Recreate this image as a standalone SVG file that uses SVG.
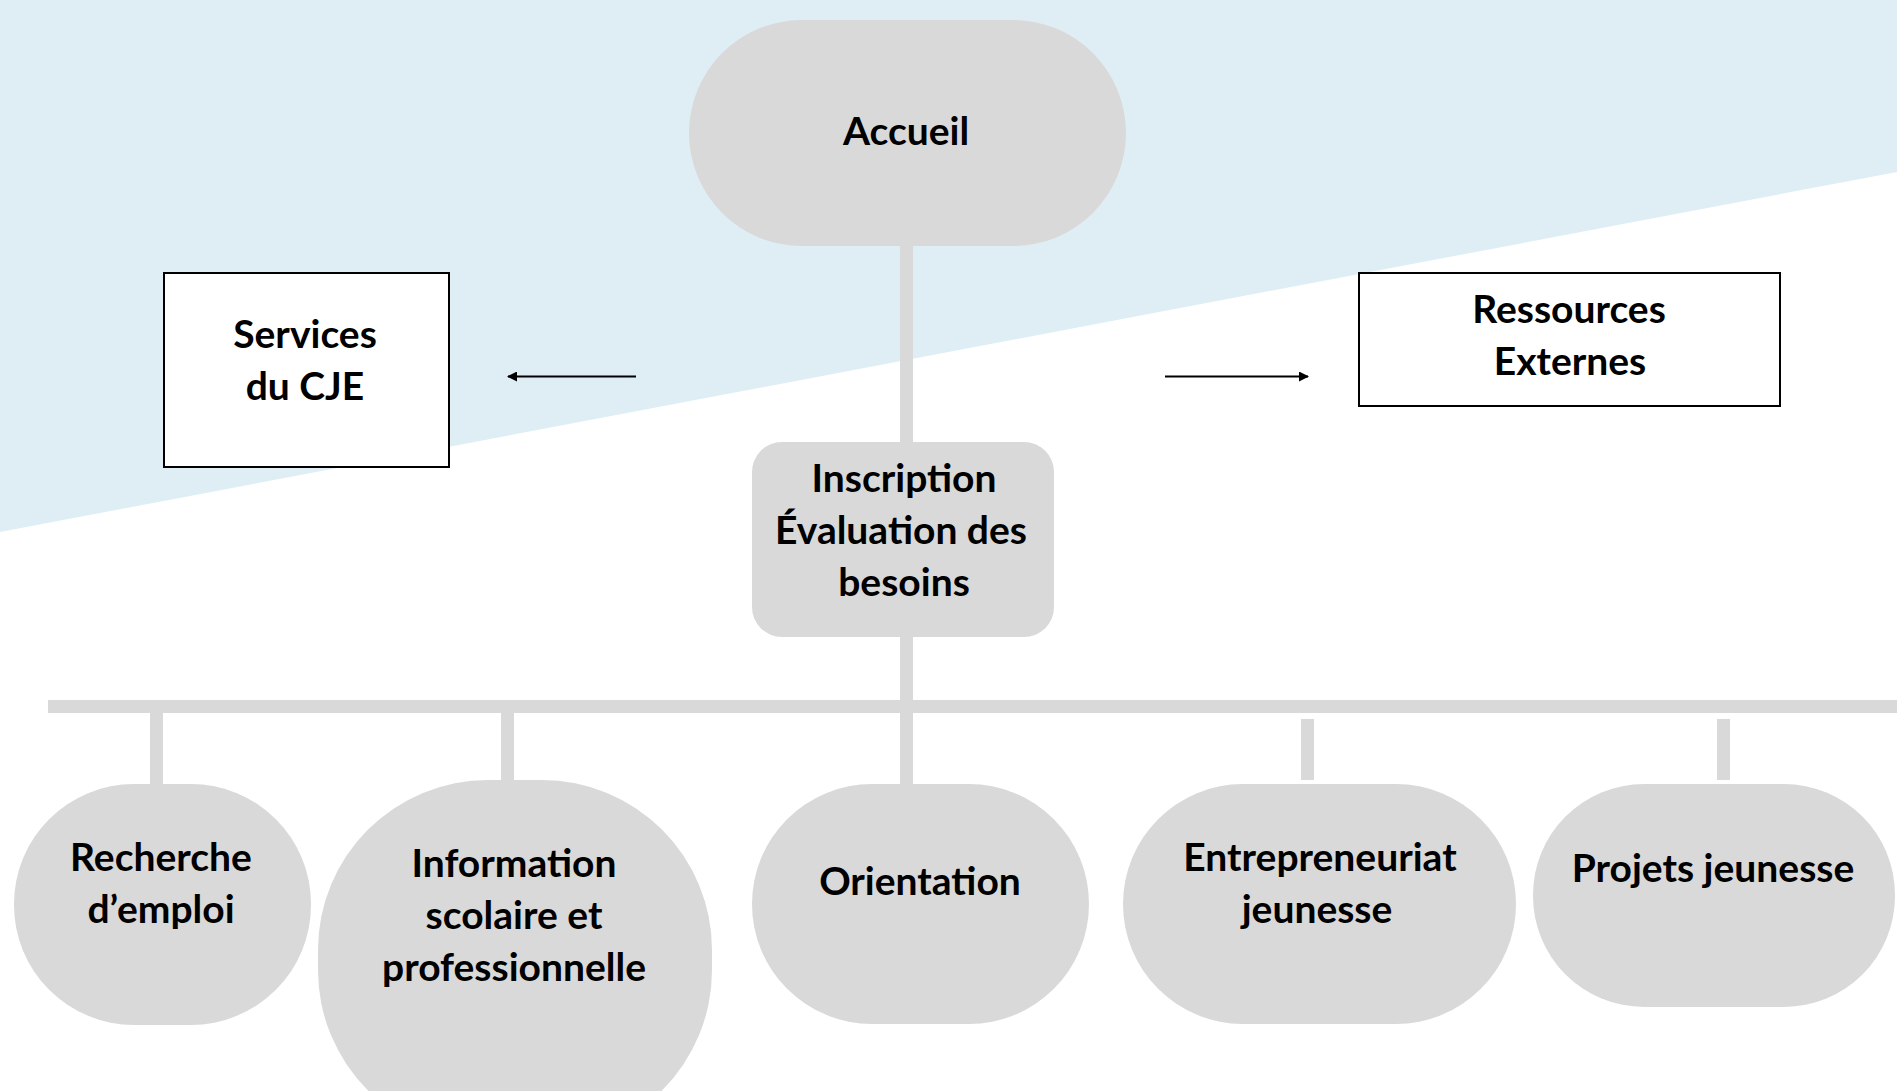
<svg xmlns="http://www.w3.org/2000/svg" width="1897" height="1091" viewBox="0 0 1897 1091">
<defs>
<style>
.node{fill:#D9D9D9;}
.box{fill:#FFFFFF;stroke:#000000;stroke-width:2;}
.lbl{font-family:Lato,"Open Sans","Liberation Sans",sans-serif;font-weight:bold;font-size:39px;fill:#000000;text-anchor:middle;}
.bar{fill:#D9D9D9;}
.arrow{stroke:#000000;stroke-width:2;fill:none;marker-end:url(#ah);}
</style>
<marker id="ah" viewBox="0 0 10 10" refX="9" refY="5" markerWidth="5" markerHeight="5" orient="auto" markerUnits="strokeWidth">
<path d="M0,0 L10,5 L0,10 z" fill="#000000"/>
</marker>
</defs>
<rect x="0" y="0" width="1897" height="1091" fill="#FFFFFF"/>
<polygon points="0,0 1897,0 1897,172 0,532" fill="#DFEEF5"/>

<g id="connectors">
<rect class="bar" x="900" y="240" width="13" height="210"/>
<rect class="bar" x="900" y="630" width="13" height="156"/>
<rect class="bar" x="48" y="700" width="1849" height="13"/>
<rect class="bar" x="150" y="710" width="13" height="76"/>
<rect class="bar" x="501" y="710" width="13" height="72"/>
<rect class="bar" x="1301" y="719" width="13" height="61"/>
<rect class="bar" x="1717" y="719" width="13" height="61"/>
<line class="arrow" x1="636" y1="376.5" x2="508" y2="376.5"/>
<line class="arrow" x1="1165" y1="376.5" x2="1308" y2="376.5"/>
</g>

<g id="accueil">
<rect class="node" x="689" y="20" width="437" height="226" rx="113"/>
<text class="lbl" x="906" y="145">Accueil</text>
</g>

<g id="services-cje">
<rect class="box" x="164" y="273" width="285" height="194"/>
<text class="lbl" x="305" y="348">Services</text>
<text class="lbl" x="305" y="400">du CJE</text>
</g>

<g id="ressources-externes">
<rect class="box" x="1359" y="273" width="421" height="133"/>
<text class="lbl" x="1569" y="323">Ressources</text>
<text class="lbl" x="1570" y="375">Externes</text>
</g>

<g id="inscription">
<rect class="node" x="752" y="442" width="302" height="195" rx="30"/>
<text class="lbl" x="904" y="492">Inscription</text>
<text class="lbl" x="901" y="544">Évaluation des</text>
<text class="lbl" x="904" y="596">besoins</text>
</g>

<g id="recherche">
<rect class="node" x="14" y="784" width="297" height="241" rx="120"/>
<text class="lbl" x="161" y="871">Recherche</text>
<text class="lbl" x="161" y="923">d’emploi</text>
</g>

<g id="information">
<rect class="node" x="318" y="780" width="394" height="360" rx="170"/>
<text class="lbl" x="514" y="877">Information</text>
<text class="lbl" x="514" y="929">scolaire et</text>
<text class="lbl" x="514" y="981">professionnelle</text>
</g>

<g id="orientation">
<rect class="node" x="752" y="784" width="337" height="240" rx="120"/>
<text class="lbl" x="920" y="895">Orientation</text>
</g>

<g id="entrepreneuriat">
<rect class="node" x="1123" y="784" width="393" height="240" rx="120"/>
<text class="lbl" x="1320" y="871">Entrepreneuriat</text>
<text class="lbl" x="1317" y="923">jeunesse</text>
</g>

<g id="projets">
<rect class="node" x="1533" y="784" width="362" height="223" rx="111"/>
<text class="lbl" x="1713" y="882">Projets jeunesse</text>
</g>
</svg>
